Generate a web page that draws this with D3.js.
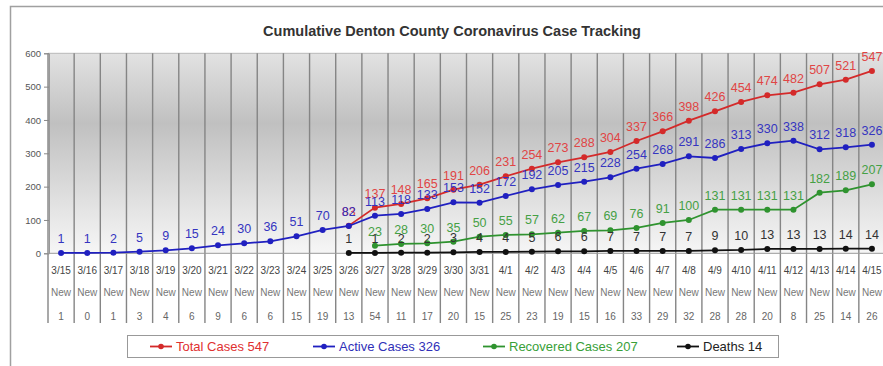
<!DOCTYPE html>
<meta charset="utf-8">
<title>Denton County Case Tracking</title>
<style>
body { margin: 0; background: white; font-family: Arial, "Liberation Sans", sans-serif; }
svg { display: block; }
</style>
<body>
<script src="https://d3js.org/d3.v7.min.js"></script>
<script>

// chart values
const dates = ["3/15","3/16","3/17","3/18","3/19","3/20","3/21","3/22","3/23","3/24","3/25","3/26","3/27","3/28","3/29","3/30","3/31",
  "4/1","4/2","4/3","4/4","4/5","4/6","4/7","4/8","4/9","4/10","4/11","4/12","4/13","4/14","4/15"];
const newCases = [1,0,1,3,4,6,9,6,6,15,19,13,54,11,17,20,15,25,23,19,15,16,33,29,32,28,28,20,8,25,14,26];
const totalCases = [null,null,null,null,null,null,null,null,null,null,null,83,137,148,165,191,206,231,254,273,288,304,337,366,398,426,454,474,482,507,521,547];
const activeCases = [1,1,2,5,9,15,24,30,36,51,70,82,113,118,133,153,152,172,192,205,215,228,254,268,291,286,313,330,338,312,318,326];
const recoveredCases = [null,null,null,null,null,null,null,null,null,null,null,null,23,28,30,35,50,55,57,62,67,69,76,91,100,131,131,131,131,182,189,207];
const deaths = [null,null,null,null,null,null,null,null,null,null,null,1,1,2,2,3,4,4,5,6,6,7,7,7,7,9,10,13,13,13,14,14];
const yTicks = [0,100,200,300,400,500,600];

const series = [
  {name: "Total Cases 547", values: totalCases, line: "#d42a2a", label: "#e04545", legend: "#e03030"},
  {name: "Active Cases 326", values: activeCases, line: "#2020c0", label: "#3535c0", legend: "#3030b8"},
  {name: "Recovered Cases 207", values: recoveredCases, line: "#2f932f", label: "#45a045", legend: "#38a038"},
  {name: "Deaths 14", values: deaths, line: "#111111", label: "#333333", legend: "#222"}
];

const W = 883, H = 366;
const svg = d3.select("body").append("svg").attr("width", W).attr("height", H);

// outer frame
svg.append("rect").attr("x", 10.5).attr("y", 6.5).attr("width", 900).attr("height", 400)
  .attr("fill", "white").attr("stroke", "#a0a0a0").attr("stroke-width", 1.5);

svg.append("text").attr("x", 452).attr("y", 36).attr("text-anchor", "middle")
  .style("font-size", "14.5px").style("font-weight", "bold").attr("fill", "#333")
  .text("Cumulative Denton County Coronavirus Case Tracking");

const x = d3.scaleBand().domain(dates).range([48, 885]);
const y = d3.scaleLinear().domain([0, 600]).range([253.3, 53.3]);

// plot background gradient
const grad = svg.append("defs").append("linearGradient").attr("id", "bg")
  .attr("x1", 0).attr("y1", 0).attr("x2", 0).attr("y2", 1);
grad.append("stop").attr("offset", "0%").attr("stop-color", "#e2e2e2");
grad.append("stop").attr("offset", "35%").attr("stop-color", "#c0c0c0");
grad.append("stop").attr("offset", "100%").attr("stop-color", "#f6f6f6");

svg.append("rect").attr("x", 48).attr("y", y(600)).attr("width", 885 - 48).attr("height", y(0) - y(600))
  .attr("fill", "url(#bg)");
svg.append("line").attr("x1", 48).attr("x2", 885).attr("y1", y(600)).attr("y2", y(600))
  .attr("stroke", "#b8b8b8");

// column separators through plot and table
const bounds = dates.map(d => x(d)).concat([x.range()[1]]);
svg.append("g").selectAll("line").data(bounds).join("line")
  .attr("x1", d => d).attr("x2", d => d).attr("y1", y(600)).attr("y2", 323)
  .attr("stroke", "#858585").attr("stroke-width", 1.4);

// y axis
const yAxis = svg.append("g").attr("transform", "translate(49,0)")
  .call(d3.axisLeft(y).tickValues(yTicks).tickSize(5).tickPadding(3));
yAxis.select(".domain").attr("stroke", "#999");
yAxis.selectAll(".tick line").attr("stroke", "#888");
yAxis.selectAll("text").attr("fill", "#555").style("font-size", "9.5px").style("font-family", "Arial");

svg.append("line").attr("x1", 48).attr("x2", 885).attr("y1", y(0)).attr("y2", y(0))
  .attr("stroke", "#999");

// table rows under the plot
const table = svg.append("g").style("font-size", "10px").attr("text-anchor", "middle");
table.selectAll(".d").data(dates).join("text").attr("class", "d")
  .attr("x", d => x(d) + x.bandwidth() / 2).attr("y", 274).attr("fill", "#444").text(d => d);
table.selectAll(".n").data(dates).join("text").attr("class", "n")
  .attr("x", d => x(d) + x.bandwidth() / 2).attr("y", 296).attr("fill", "#777").text("New");
table.selectAll(".c").data(newCases).join("text").attr("class", "c")
  .attr("x", (d, i) => x(dates[i]) + x.bandwidth() / 2).attr("y", 320).attr("fill", "#666").text(d => d);

// series lines, markers and value labels
const line = d3.line()
  .defined(d => d.v != null)
  .x(d => x(d.date) + x.bandwidth() / 2)
  .y(d => y(d.v));

series.forEach(s => {
  const pts = dates.map((d, i) => ({date: d, v: s.values[i]}));
  const g = svg.append("g");
  g.append("path").datum(pts).attr("d", line).attr("fill", "none")
    .attr("stroke", s.line).attr("stroke-width", 1.8);
  const valid = pts.filter(p => p.v != null);
  g.selectAll("circle").data(valid).join("circle")
    .attr("cx", p => x(p.date) + x.bandwidth() / 2).attr("cy", p => y(p.v)).attr("r", 3)
    .attr("fill", s.line);
  g.selectAll("text").data(valid).join("text")
    .attr("x", p => x(p.date) + x.bandwidth() / 2).attr("y", p => y(p.v) - 10)
    .attr("text-anchor", "middle").style("font-size", "12.5px").attr("fill", s.label)
    .text(p => p.v);
});

// legend
svg.append("rect").attr("x", 127.5).attr("y", 335.5).attr("width", 651).attr("height", 22)
  .attr("fill", "white").attr("stroke", "#999");
const legX = [150, 313, 483, 677];
series.forEach((s, i) => {
  const lg = svg.append("g").attr("transform", `translate(${legX[i]},346.5)`);
  lg.append("line").attr("x1", 0).attr("x2", 22).attr("stroke", s.line).attr("stroke-width", 1.8);
  lg.append("circle").attr("cx", 11).attr("r", 2.8).attr("fill", s.line);
  lg.append("text").attr("x", 26).attr("dy", "0.35em").style("font-size", "13px")
    .attr("fill", s.legend).text(s.name);
});

</script>
</body>
